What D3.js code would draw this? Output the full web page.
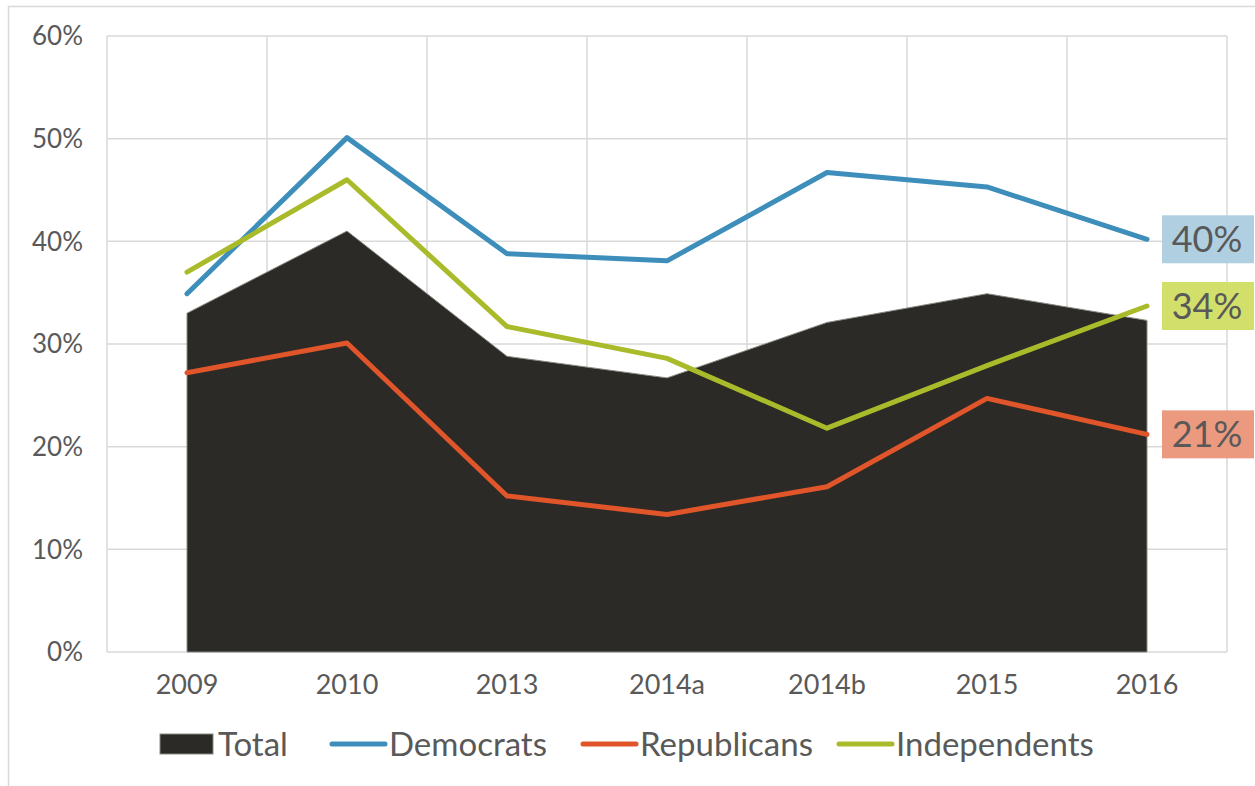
<!DOCTYPE html>
<html><head><meta charset="utf-8">
<script src="https://cdn.jsdelivr.net/npm/d3@7"></script>
<style>body{margin:0;background:#fff;} text{font-family:Lato, "Open Sans", sans-serif;fill:#595959;}</style>
</head><body><svg id="c" width="1255" height="786"></svg>
<script>
const categories = ["2009","2010","2013","2014a","2014b","2015","2016"];
const total = [33.0, 41.0, 28.8, 26.7, 32.1, 34.9, 32.3];
const democrats = [34.9, 50.1, 38.8, 38.1, 46.7, 45.3, 40.2];
const republicans = [27.2, 30.1, 15.2, 13.4, 16.1, 24.7, 21.2];
const independents = [37.0, 46.0, 31.7, 28.6, 21.8, 27.9, 33.7];
const yTicks = [0,10,20,30,40,50,60];
const endLabels = ["40%","34%","21%"];

const svg = d3.select("#c");
const L=107,R=1227,T=36,B=652;
svg.append("rect").attr("x",8.5).attr("y",6.5).attr("width",1260).attr("height",800).attr("fill","none").attr("stroke","#d9d9d9").attr("stroke-width",1.5);

const x = d3.scaleBand().domain(categories).range([L,R]);
const y = d3.scaleLinear().domain([0,60]).range([B,T]);
const xc = c => x(c)+x.bandwidth()/2;

const g = svg.append("g");
g.selectAll(".hg").data(yTicks).join("line").attr("x1",L).attr("x2",R).attr("y1",d=>y(d)).attr("y2",d=>y(d)).attr("stroke","#d9d9d9").attr("stroke-width",1.5);
g.selectAll(".vg").data(categories).join("line").attr("x1",d=>x(d)).attr("x2",d=>x(d)).attr("y1",T).attr("y2",B).attr("stroke","#d9d9d9").attr("stroke-width",1.5);
g.append("line").attr("x1",R).attr("x2",R).attr("y1",T).attr("y2",B).attr("stroke","#d9d9d9").attr("stroke-width",1.5);

const area = d3.area().x((d,i)=>xc(categories[i])).y0(B).y1(d=>y(d));
g.append("path").datum(total).attr("d",area).attr("fill","#2b2a26").attr("stroke","#8a8a84").attr("stroke-width",1);

const line = d3.line().x((d,i)=>xc(categories[i])).y(d=>y(d));
const series = [[democrats,"#3e8ebc"],[republicans,"#e0552a"],[independents,"#a9bb2a"]];
series.forEach(([s,c])=>{
  g.append("path").datum(s).attr("d",line).attr("fill","none").attr("stroke",c).attr("stroke-width",5).attr("stroke-linecap","round").attr("stroke-linejoin","round");
});

g.selectAll(".yl").data(yTicks).join("text").attr("x",83).attr("y",d=>y(d)).attr("dy","0.36em").attr("text-anchor","end").attr("font-size",26).text(d=>d+"%");
g.selectAll(".xl").data(categories).join("text").attr("x",d=>xc(d)).attr("y",684).attr("dy","0.36em").attr("text-anchor","middle").attr("font-size",27).text(d=>d);

const endData = [[democrats,"#b0d0e2",endLabels[0]],[independents,"#d2e06b",endLabels[1]],[republicans,"#eb9a80",endLabels[2]]];
endData.forEach(([s,bg,t])=>{
  const cy = y(s[s.length-1]);
  g.append("rect").attr("x",1162).attr("y",cy-24).attr("width",92).attr("height",48).attr("fill",bg);
  g.append("text").attr("x",1207).attr("y",cy).attr("dy","0.36em").attr("text-anchor","middle").attr("font-size",36).attr("fill","#404040").text(t);
});

const ly=744;
g.append("rect").attr("x",160).attr("y",734).attr("width",53).attr("height",20).attr("fill","#2b2a26").attr("stroke","#8a8a84");
g.append("text").attr("x",218).attr("y",ly).attr("dy","0.36em").attr("font-size",33).text("Total");
const leg = [["Democrats","#3e8ebc",332],["Republicans","#e0552a",583],["Independents","#a9bb2a",839]];
leg.forEach(([n,c,lx])=>{
  g.append("line").attr("x1",lx).attr("x2",lx+53).attr("y1",ly).attr("y2",ly).attr("stroke",c).attr("stroke-width",5).attr("stroke-linecap","round");
  g.append("text").attr("x",lx+57).attr("y",ly).attr("dy","0.36em").attr("font-size",33).text(n);
});
</script></body></html>
